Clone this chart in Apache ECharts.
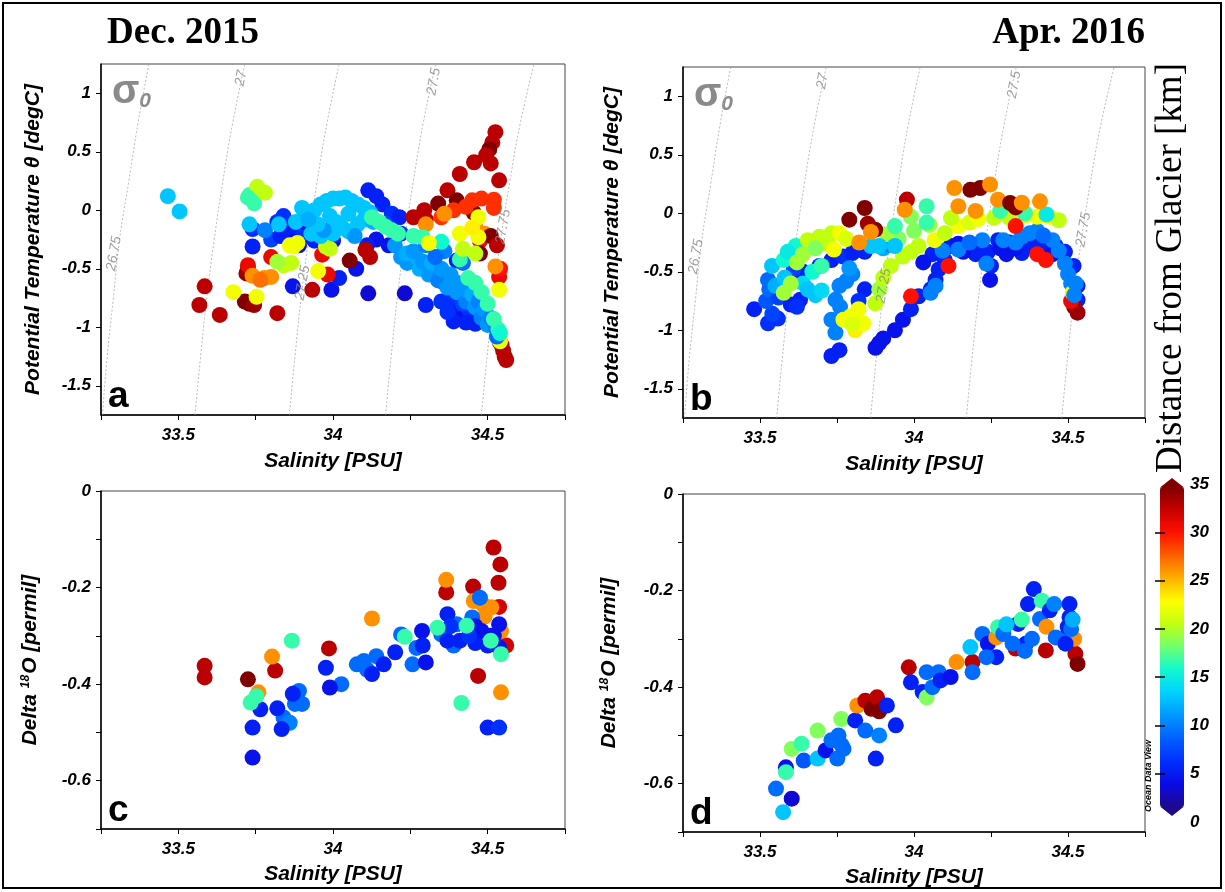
<!DOCTYPE html>
<html><head><meta charset="utf-8">
<script src="https://cdn.jsdelivr.net/npm/echarts@6/dist/echarts.min.js"></script>
<style>html,body{margin:0;padding:0;background:#fff}#c{width:1225px;height:892px}</style>
</head><body><div id="c"></div>
<script>
// ---------- data : [salinity, value, distance km] ----------
const panelA = [
[33.74,-0.31,4],[33.74,-0.16,5],[33.87,-0.65,3],[33.995,-0.68,3],[34.02,-0.58,4],[34.075,-0.50,3],[34.114,-0.71,2],[34.232,-0.71,2],[34.30,-0.81,4],
[33.80,-0.25,6],[33.85,-0.20,5],[33.88,-0.17,4],[33.92,-0.15,3],[33.96,-0.17,4],[33.90,-0.23,5],[33.94,-0.26,4],[33.86,-0.12,4],[33.84,-0.05,5],[33.91,-0.04,6],[33.87,-0.27,3],
[33.83,-0.22,4],[33.89,-0.30,3],[33.97,-0.28,4],[34.00,-0.26,3],[33.82,-0.10,5],
[34.114,0.17,4],[34.14,0.12,4],[34.16,0.05,4],[34.19,-0.03,5],[34.215,-0.06,4],[34.17,-0.12,6],[34.14,-0.25,3],[34.18,-0.30,3],[34.11,-0.30,4],[34.22,-0.20,5],
[34.376,-0.82,4],[34.40,-0.88,4],[34.42,-0.92,3],[34.45,-0.92,4],[34.47,-0.88,5],[34.44,-0.85,5],[34.40,-0.43,4],[34.38,-0.75,5],[34.36,-0.62,5],[34.42,-0.80,6],[34.46,-0.97,4],
[34.39,-0.95,4],[34.43,-0.96,4],[34.37,-0.87,5],[34.44,-0.75,4],[34.35,-0.78,5],
[33.585,-0.65,33],[33.568,-0.81,33],[33.634,-0.895,33],[33.725,-0.50,33],[33.72,-0.54,34],[33.715,-0.78,35],[33.73,-0.80,35],[33.745,-0.81,34],[33.82,-0.88,33],[33.933,-0.68,33],[34.054,-0.43,35],[34.12,-0.40,33],[34.105,-0.34,33],
[33.983,-0.55,31],[33.80,-0.40,31],[33.725,-0.47,31],[33.965,-0.38,31],
[33.778,-0.58,26],[33.80,-0.57,26],[33.74,-0.56,26],[33.765,-0.595,27],
[33.678,-0.70,22],[33.753,-0.74,22],[33.872,-0.31,22],[33.885,-0.28,22],[33.952,-0.52,22],[33.86,-0.30,22],
[33.977,-0.31,20],[33.99,-0.33,20],[33.865,-0.45,20],[33.84,-0.47,20],[33.82,-0.44,19],
[33.466,0.12,12],[33.504,-0.01,12],[33.73,0.13,16],[33.745,0.06,16],[33.755,0.20,20],[33.78,0.15,20],[33.725,0.11,16],
[33.78,-0.17,9],[33.825,-0.12,12],[33.73,-0.12,12],
[33.93,-0.20,12],[33.96,-0.22,12],[34.0,-0.20,12],[34.05,-0.18,12],[34.08,-0.12,12],[34.10,-0.08,12],[33.88,-0.10,12],[33.90,0.02,12],[34.13,-0.10,11],[34.07,-0.22,10],
[33.94,0.0,12],[33.96,0.05,12],[33.98,0.08,12],[34.0,0.10,12],[34.02,0.10,12],[34.04,0.11,12],[34.06,0.08,12],[34.08,0.05,12],[34.10,0.02,12],[34.12,-0.02,12],[33.99,-0.05,12],[34.01,-0.10,12],[34.03,-0.15,12],[33.97,-0.17,10],[33.95,-0.12,12],[34.05,-0.03,12],[33.92,-0.08,11],
[34.525,0.667,33],[34.515,0.58,33],[34.505,0.52,35],[34.495,0.47,33],[34.51,0.40,33],[34.537,0.256,33],[34.456,0.41,33],[34.41,0.31,33],[34.37,0.17,33],[34.295,0.0,33],[34.34,0.057,35],[34.40,0.085,35],[34.455,-0.02,35],[34.26,-0.06,33],[34.30,-0.08,33],
[34.45,0.085,29],[34.48,0.10,29],[34.52,0.09,29],[34.43,0.03,29],[34.39,0.0,29],[34.35,-0.06,29],[34.52,0.02,29],[34.475,-0.26,31],[34.537,-0.57,31],[34.54,-0.50,30],
[34.36,-0.03,26],[34.46,-0.14,26],[34.525,-0.48,26],[34.49,-0.20,26],[34.30,-0.12,26],
[34.475,-0.37,35],[34.51,-0.22,35],[34.53,-0.30,33],
[34.537,-1.10,33],[34.545,-1.15,33],[34.55,-1.20,33],[34.555,-1.25,33],[34.56,-1.28,33],[34.54,-1.13,34],[34.54,-1.12,22],
[34.24,-0.45,10],[34.28,-0.50,11],[34.31,-0.55,10],[34.34,-0.60,9],[34.37,-0.66,10],[34.40,-0.70,10],[34.43,-0.78,9],[34.46,-0.83,10],[34.48,-0.92,9],[34.50,-0.98,10],[34.27,-0.40,11],[34.22,-0.40,10],
[34.20,-0.30,10],[34.238,-0.37,11],[34.26,-0.35,10],[34.29,-0.44,10],[34.32,-0.45,11],[34.35,-0.50,10],[34.38,-0.55,10],[34.40,-0.62,10],[34.43,-0.68,10],[34.45,-0.72,11],[34.47,-0.78,9],[34.49,-0.85,10],[34.51,-0.92,9],[34.525,-1.00,9],[34.53,-1.08,8],[34.30,-0.30,9],[34.36,-0.35,9],[34.42,-0.45,8],[34.33,-0.40,8],
[34.126,-0.06,16],[34.15,-0.10,16],[34.17,-0.14,16],[34.19,-0.17,16],[34.21,-0.20,16],[34.29,-0.23,16],[34.26,-0.22,16],[34.35,-0.27,15],[34.41,-0.42,16],[34.437,-0.58,16],[34.46,-0.62,16],[34.48,-0.70,16],[34.50,-0.80,16],[34.52,-0.93,16],[34.535,-1.02,16],[34.54,-1.05,15],
[34.47,-0.06,22],[34.41,-0.20,22],[34.47,-0.23,22],[34.45,-0.15,23],[34.537,-0.68,22],[34.31,-0.28,22],[34.46,-0.37,20],[34.42,-0.33,20]
];
const panelB = [
[33.481,-0.82,4],[33.526,-0.94,5],[33.558,-0.90,5],[33.54,-0.86,6],[33.52,-0.75,7],[33.53,-0.65,8],[33.526,-0.57,8],[33.56,-0.72,6],[33.60,-0.78,4],[33.63,-0.74,4],[33.62,-0.80,5],[33.60,-0.55,4],[33.64,-0.50,4],[33.693,-0.45,4],[33.732,-0.40,4],[33.77,-0.37,5],[33.80,-0.34,4],[33.84,-0.33,4],[33.61,-0.47,6],
[33.732,-1.22,4],[33.758,-1.17,4],[33.887,-1.11,3],[33.90,-1.07,3],[33.938,-1.00,3],[33.964,-0.91,3],[33.99,-0.82,4],[34.015,-0.71,4],[34.054,-0.65,4],[34.07,-0.57,4],[34.08,-0.48,4],[33.875,-1.15,3],
[34.119,-0.28,4],[34.144,-0.26,3],[34.183,-0.28,4],[34.215,-0.27,3],[34.273,-0.23,4],[34.31,-0.25,4],[34.35,-0.34,4],[34.37,-0.29,4],[34.40,-0.27,4],[34.428,-0.23,4],[34.46,-0.28,4],[34.49,-0.33,4],[34.518,-0.45,4],[34.531,-0.62,4],[34.531,-0.74,4],[34.247,-0.57,3],[34.25,-0.45,4],[34.06,-0.35,4],[34.03,-0.42,3],[34.10,-0.40,4],[34.20,-0.35,4],[34.30,-0.35,3],
[34.16,-0.33,3],[34.24,-0.33,4],[34.33,-0.30,3],[34.42,-0.32,4],[34.45,-0.35,3],[34.28,-0.30,3],
[33.539,-0.45,12],[33.577,-0.40,15],[33.616,-0.28,15],[33.59,-0.33,14],[33.64,-0.60,13],[33.655,-0.65,12],[33.68,-0.70,12],[33.70,-0.66,13],[33.67,-0.50,15],[33.70,-0.45,16],[33.55,-0.62,11],[33.58,-0.55,12],
[33.655,-0.23,20],[33.693,-0.20,20],[33.732,-0.17,20],[33.758,-0.17,22],[33.72,-0.26,20],[33.62,-0.42,19],[33.577,-0.68,19],[33.60,-0.60,19],[33.64,-0.35,19],[33.78,-0.22,21],[33.68,-0.30,18],[33.74,-0.31,22],
[33.758,-0.62,9],[33.745,-0.74,9],[33.732,-0.91,9],[33.745,-1.02,9],[33.78,-0.58,9],[33.80,-0.52,9],[33.76,-0.80,9],[33.79,-0.47,10],[33.84,-0.65,4],[33.82,-0.75,5],
[33.771,-0.91,22],[33.795,-0.88,22],[33.809,-1.00,23],[33.82,-0.82,22],[33.835,-0.94,22],[33.80,-0.95,21],
[34.093,-0.32,9],[34.144,-0.31,9],[34.222,-0.23,9],[34.29,-0.23,9],[34.376,-0.17,9],[34.40,-0.15,9],[34.45,-0.23,9],[34.49,-0.43,9],[34.51,-0.60,9],[34.235,-0.43,9],[34.054,-0.68,9],[34.07,-0.62,9],[34.33,-0.25,9],[34.47,-0.32,9],[33.90,-0.30,11],[33.86,-0.28,12],[33.92,-0.27,9],
[34.35,-0.20,9],[34.42,-0.19,8],[34.50,-0.52,9],[34.18,-0.25,8],
[33.874,-0.77,20],[33.887,-0.65,19],[33.90,-0.55,20],[33.925,-0.45,20],[33.964,-0.37,20],[33.99,-0.33,20],[34.015,-0.28,20],[34.067,-0.23,22],[34.10,-0.17,20],[34.144,-0.11,22],[34.18,-0.08,21],[34.209,-0.05,22],[34.26,-0.04,20],[34.31,-0.04,20],[34.36,-0.02,21],[34.40,-0.03,22],[34.44,-0.03,22],[34.47,-0.06,20],[33.95,-0.22,18],[33.91,-0.18,19],[34.00,-0.15,18],[34.05,-0.10,19],[34.12,-0.04,20],
[34.041,0.06,16],[34.041,-0.08,16],[33.99,-0.03,18],[33.938,-0.11,16],[33.887,-0.28,12],[33.938,-0.28,12],[34.28,0.02,16],[34.36,0.0,16],[34.43,-0.01,14],
[33.79,-0.055,35],[33.84,0.045,35],[33.874,-0.14,35],[33.85,-0.09,34],[33.822,-0.25,26],[33.86,-0.16,26],[33.977,0.117,33],[33.97,0.03,26],
[34.131,0.216,26],[34.183,0.20,35],[34.215,0.216,35],[34.247,0.245,26],[34.273,0.116,26],[34.312,0.088,35],[34.33,0.05,35],[34.35,0.09,26],[34.409,0.102,26],[34.144,0.06,26],[34.20,0.02,26],
[34.33,-0.11,30],[34.112,-0.45,30],[33.99,-0.71,30],[34.428,-0.40,30],[34.40,-0.35,30],
[34.531,-0.85,34],[34.52,-0.80,34],[34.51,-0.75,31],[34.515,-0.68,22],[34.52,-0.70,9],[34.525,-0.60,9]
];
const panelC = [
[33.585,-0.362,33],[33.585,-0.386,33],[33.725,-0.39,35],[33.813,-0.372,33],[33.987,-0.326,33],[34.366,-0.21,33],[34.453,-0.198,33],[34.469,-0.383,33],[34.519,-0.117,33],[34.541,-0.152,33],[34.535,-0.19,33],[34.537,-0.24,32],[34.56,-0.32,32],
[33.803,-0.343,26],[34.366,-0.184,26],[34.126,-0.264,26],[34.455,-0.228,26],[34.485,-0.235,26],[34.512,-0.241,26],[34.49,-0.26,26],[34.543,-0.29,26],[34.543,-0.417,26],[33.759,-0.417,26],
[33.84,-0.469,8],[33.877,-0.441,8],[33.90,-0.441,8],[33.89,-0.414,8],[34.027,-0.40,8],[34.077,-0.359,8],[34.10,-0.352,8],[34.14,-0.342,8],[34.11,-0.37,8],[34.22,-0.297,8],[34.257,-0.359,8],[34.27,-0.325,8],[34.35,-0.297,8],[34.40,-0.276,8],[34.45,-0.262,8],[34.475,-0.221,8],[34.39,-0.32,8],[33.86,-0.48,9],
[33.74,-0.49,4],[33.74,-0.552,3],[33.765,-0.452,4],[33.834,-0.493,4],[33.82,-0.45,4],[33.977,-0.366,4],[33.99,-0.407,3],[34.164,-0.359,4],[34.201,-0.334,4],[34.288,-0.29,3],[34.30,-0.355,3],[34.37,-0.255,4],[34.37,-0.31,4],[34.41,-0.31,4],[34.46,-0.315,4],[34.50,-0.49,4],[34.537,-0.49,5],[34.537,-0.276,3],[34.51,-0.30,4],[34.537,-0.324,3],[34.46,-0.28,3],[34.126,-0.379,4],[34.38,-0.28,5],[34.48,-0.29,3],[34.50,-0.32,4],[34.52,-0.30,3],[34.29,-0.32,4],[33.87,-0.42,4],[34.44,-0.30,5],
[33.867,-0.31,16],[33.734,-0.438,16],[33.752,-0.425,16],[34.232,-0.302,16],[34.338,-0.283,16],[34.432,-0.279,16],[34.415,-0.439,16],[34.543,-0.338,16],[34.51,-0.31,16]
];
const panelD = [
[33.552,-0.61,8],[33.603,-0.631,2],[33.575,-0.659,12],[33.584,-0.566,3],[33.584,-0.576,16],[33.603,-0.528,18],[33.635,-0.517,16],[33.642,-0.552,7],[33.687,-0.548,12],[33.687,-0.49,18],[33.713,-0.531,3],[33.732,-0.51,8],[33.755,-0.50,8],[33.751,-0.548,8],[33.771,-0.528,8],[33.765,-0.52,8],[33.764,-0.466,18],[33.809,-0.469,4],
[33.816,-0.438,26],[33.842,-0.428,33],[33.862,-0.445,35],[33.88,-0.421,33],[33.887,-0.45,35],[33.912,-0.438,4],[33.842,-0.49,8],[33.887,-0.50,9],[33.876,-0.548,4],[33.941,-0.479,4],
[33.983,-0.359,33],[33.99,-0.39,4],[34.028,-0.41,4],[34.041,-0.421,18],[34.041,-0.369,8],[34.06,-0.40,8],[34.08,-0.369,8],[34.086,-0.386,4],[34.119,-0.379,3],[34.138,-0.348,26],[34.19,-0.348,33],[34.19,-0.369,8],[34.183,-0.317,12],
[34.222,-0.29,8],[34.24,-0.31,3],[34.267,-0.338,4],[34.235,-0.338,8],[34.267,-0.297,26],[34.273,-0.276,16],[34.29,-0.29,8],[34.338,-0.269,4],[34.33,-0.32,33],[34.363,-0.31,4],[34.36,-0.325,8],[34.32,-0.31,8],[34.383,-0.30,8],[34.30,-0.27,12],[34.35,-0.26,16],
[34.37,-0.228,4],[34.389,-0.197,4],[34.409,-0.259,8],[34.428,-0.324,33],[34.415,-0.221,16],[34.43,-0.275,26],[34.441,-0.241,4],[34.455,-0.228,9],[34.46,-0.297,8],[34.48,-0.30,8],[34.524,-0.331,33],[34.531,-0.352,35],[34.52,-0.30,26],
[34.505,-0.228,4],[34.505,-0.255,4],[34.499,-0.275,4],[34.492,-0.31,4],[34.51,-0.28,8],[34.515,-0.26,11]
];
// sigma-0 isopycnals [salinity, theta]
const sig2675 = [[33.255,-1.75],[33.27,-1.25],[33.29,-0.75],[33.31,-0.25],[33.34,0.25],[33.37,0.75],[33.405,1.25]];
const sig2700 = [[33.554,-1.75],[33.572,-1.25],[33.592,-0.75],[33.616,-0.25],[33.644,0.25],[33.676,0.75],[33.715,1.25]];
const sig2725 = [[33.859,-1.75],[33.877,-1.25],[33.897,-0.75],[33.921,-0.25],[33.949,0.25],[33.981,0.75],[34.02,1.25]];
const sig2750 = [[34.17,-1.75],[34.188,-1.25],[34.208,-0.75],[34.232,-0.25],[34.26,0.25],[34.292,0.75],[34.332,1.25]];
const sig2775 = [[34.48,-1.75],[34.498,-1.25],[34.518,-0.75],[34.542,-0.25],[34.572,0.25],[34.606,0.75],[34.65,1.25]];
const sigLabels = [['26.75',33.292,-0.37],['27',33.703,1.13],['27.25',33.902,-0.62],['27.5',34.326,1.10],['27.75',34.55,-0.14]];
// ticks
const salTicks = [33.25,33.5,33.75,34,34.25,34.5,34.75];
const salLabels = [33.5,34,34.5];
const thetaLabels = [-1.5,-1,-0.5,0,0.5,1];
const o18Ticks = [-0.7,-0.6,-0.5,-0.4,-0.3,-0.2,-0.1,0];
const o18Labels = [-0.6,-0.4,-0.2,0];
const cbTicks = [5,10,15,20,25,30];
const jet = ['#1e0a8c','#0a0ae6','#0030ff','#0060ff','#0098ff','#00d0ff','#10f8d0','#70ff70','#c0ff10','#ffff00','#ffb000','#ff6000','#ff1000','#c80000','#800000'];

const SANS = "'Liberation Sans', Arial, sans-serif";
const SERIF = "'Liberation Serif', 'Times New Roman', serif";
const tickFont = {fontFamily:SANS,fontSize:17,fontWeight:'bold',fontStyle:'italic',color:'#000'};
const nameFont = {fontFamily:SANS,fontSize:21,fontWeight:'bold',fontStyle:'italic',color:'#000'};

const grids = [
  {left:101,top:64,width:464,height:351},
  {left:683,top:67,width:462,height:351},
  {left:101,top:491,width:464,height:338},
  {left:683,top:494,width:462,height:338},
  {left:1160,top:484,width:24,height:338}
].map((g,i)=>Object.assign({show:i<4,borderColor:'#444',borderWidth:1,backgroundColor:'transparent'},g));

function xAx(gi, gap){
  return {gridIndex:gi,type:'value',min:33.25,max:34.75,interval:0.25,
    name:'Salinity [PSU]',nameLocation:'middle',nameGap:gap,nameTextStyle:nameFont,
    axisLine:{onZero:false,lineStyle:{color:'#000',width:1.5}},
    axisTick:{customValues:salTicks,length:5,lineStyle:{color:'#000',width:1}},
    axisLabel:Object.assign({customValues:salLabels,margin:12,formatter:v=>String(v)},tickFont),
    splitLine:{show:false}};
}
function yTheta(gi,gap){
  return {gridIndex:gi,type:'value',min:-1.75,max:1.25,interval:0.25,
    name:'Potential Temperature \u03b8 [degC]',nameLocation:'middle',nameGap:gap,nameTextStyle:nameFont,
    axisLine:{onZero:false,lineStyle:{color:'#000',width:1.5}},
    axisTick:{customValues:thetaLabels,length:5,lineStyle:{color:'#000'}},
    axisLabel:Object.assign({customValues:thetaLabels,margin:10,formatter:v=>String(v)},tickFont),
    splitLine:{show:false}};
}
function yO18(gi,gap){
  return {gridIndex:gi,type:'value',min:-0.7,max:0,interval:0.1,
    name:'Delta {sup|18}O [permil]',nameLocation:'middle',nameGap:gap,
    nameTextStyle:Object.assign({rich:{sup:{fontFamily:SANS,fontSize:12,fontWeight:'bold',fontStyle:'italic',color:'#000',verticalAlign:'top',padding:[0,1,8,0]}}},nameFont),
    axisLine:{onZero:false,lineStyle:{color:'#000',width:1.5}},
    axisTick:{customValues:o18Ticks,length:5,lineStyle:{color:'#000'}},
    axisLabel:Object.assign({customValues:o18Labels,margin:10,formatter:v=>(Math.abs(v)<1e-9?'0':v.toFixed(1))},tickFont),
    splitLine:{show:false}};
}

const dotSeries = [panelA,panelB,panelC,panelD].map((d,i)=>({
  type:'scatter',xAxisIndex:i,yAxisIndex:i,data:d,symbolSize:16,z:3,silent:true,
  itemStyle:{opacity:1}
}));
const sigs = [sig2675,sig2700,sig2725,sig2750,sig2775];
const contourSeries = [];
[0,1].forEach(p=>sigs.forEach(s=>contourSeries.push({
  type:'line',xAxisIndex:p,yAxisIndex:p,data:s,smooth:true,symbol:'none',z:2,silent:true,
  lineStyle:{color:'#a8a8a8',width:0.8,type:[2,2]}
})));
const labelSeries = [0,1].map(p=>({
  type:'scatter',xAxisIndex:p,yAxisIndex:p,symbolSize:0,z:5,silent:true,
  data:sigLabels.map(l=>({name:l[0],value:[l[1],l[2]]})),
  label:{show:true,position:'inside',formatter:'{b}',rotate:80,color:'#8a8a8a',fontFamily:SANS,fontStyle:'italic',fontSize:14}
}));
const sigRich = {s:{fontFamily:SANS,fontSize:40,fontWeight:'bold',fill:'#8a8a8a'},b:{fontFamily:SANS,fontSize:21,fontStyle:'italic',fontWeight:'bold',fill:'#8a8a8a',verticalAlign:'bottom'}};

const option = {
  animation:false,
  grid:grids,
  xAxis:[xAx(0,36),xAx(1,36),xAx(2,35),xAx(3,35),{gridIndex:4,type:'value',min:0,max:1,show:false}],
  yAxis:[yTheta(0,57),yTheta(1,60),yO18(2,60),yO18(3,63),
    {gridIndex:4,type:'value',min:0,max:35,interval:5,position:'right',z:10,
     axisLine:{show:false},axisTick:{inside:true,length:5,customValues:cbTicks,lineStyle:{color:'#000',width:1.5}},
     axisLabel:Object.assign({margin:6,formatter:v=>String(v)},tickFont),splitLine:{show:false}},
    {gridIndex:4,type:'value',min:0,max:35,interval:5,position:'left',z:10,
     axisLine:{show:false},axisTick:{inside:true,length:5,customValues:cbTicks,lineStyle:{color:'#000',width:1.5}},
     axisLabel:{show:false},splitLine:{show:false}}],
  visualMap:{type:'continuous',min:0,max:35,dimension:2,seriesIndex:[0,1,2,3],calculable:false,
    left:1160,top:487,itemWidth:24,itemHeight:320,padding:0,inRange:{color:jet},text:null,
    textStyle:{color:'transparent'}},
  series:[...dotSeries,...contourSeries,...labelSeries,
    {type:'scatter',xAxisIndex:4,yAxisIndex:4,data:[]}],
  graphic:[
    {type:'rect',shape:{x:3,y:3,width:1218,height:885},style:{fill:'none',stroke:'#000',lineWidth:2},z:0},
    {type:'text',x:107,y:33,style:{text:'Dec. 2015',font:"bold 37px "+SERIF,fill:'#000',verticalAlign:'middle'}},
    {type:'text',x:1145,y:33,style:{text:'Apr. 2016',font:"bold 37px "+SERIF,fill:'#000',align:'right',verticalAlign:'middle'}},
    {type:'text',x:1171,y:268,rotation:Math.PI/2,style:{text:'Distance from Glacier [km]',font:"37px "+SERIF,fill:'#000',align:'center',verticalAlign:'middle'}},
    {type:'polygon',shape:{points:[[1160,487.5],[1184,487.5],[1172,478]]},style:{fill:'#800000'},z:10},
    {type:'polygon',shape:{points:[[1160,806.5],[1184,806.5],[1172,816]]},style:{fill:'#1e0a8c'},z:10},
    {type:'text',x:1149,y:776,rotation:Math.PI/2,style:{text:'Ocean Data View',font:"italic bold 9px "+SANS,fill:'#000',align:'center',verticalAlign:'middle'}},
    // sigma-0 labels
    {type:'text',x:112,y:92,style:{text:'{s|\u03c3}{b|0}',rich:sigRich,verticalAlign:'middle'}},
    {type:'text',x:694,y:95,style:{text:'{s|\u03c3}{b|0}',rich:sigRich,verticalAlign:'middle'}},
    // panel letters
    {type:'text',x:108,y:397,style:{text:'a',font:"bold 37px "+SANS,fill:'#000',verticalAlign:'middle'}},
    {type:'text',x:690,y:400,style:{text:'b',font:"bold 37px "+SANS,fill:'#000',verticalAlign:'middle'}},
    {type:'text',x:108,y:811,style:{text:'c',font:"bold 37px "+SANS,fill:'#000',verticalAlign:'middle'}},
    {type:'text',x:690,y:814,style:{text:'d',font:"bold 37px "+SANS,fill:'#000',verticalAlign:'middle'}}
  ]
};
const chart = echarts.init(document.getElementById('c'),null,{renderer:'canvas'});
chart.setOption(option);
</script></body></html>
